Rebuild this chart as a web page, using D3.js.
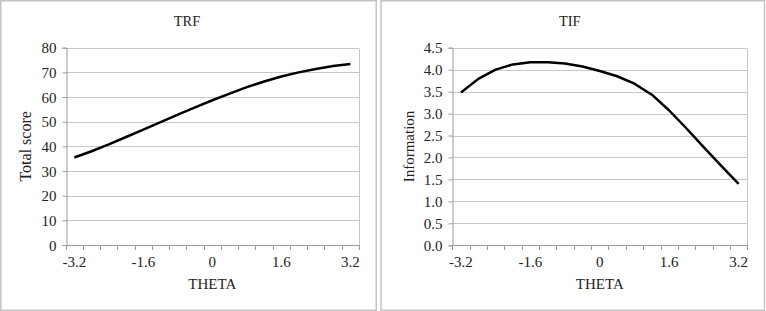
<!DOCTYPE html>
<html>
<head>
<meta charset="utf-8">
<script src="https://cdn.jsdelivr.net/npm/d3@7"></script>
<style>
  html, body { margin: 0; padding: 0; background: #fff; }
  svg { display: block; }
  text { font-family: "Liberation Serif", "Times New Roman", serif; fill: #222; }
</style>
</head>
<body>
<svg id="chart" width="766" height="311"></svg>
<script>
// ---- data ----
const theta = ["-3.2","-2.8","-2.4","-2.0","-1.6","-1.2","-0.8","-0.4","0","0.4","0.8","1.2","1.6","2.0","2.4","2.8","3.2"];
const thetaLabels = ["-3.2","-1.6","0","1.6","3.2"];
const trfValues = [35.5, 38.0, 40.8, 43.8, 46.8, 49.8, 52.9, 55.8, 58.7, 61.4, 64.0, 66.3, 68.3, 70.0, 71.4, 72.6, 73.4];
const tifValues = [3.48, 3.79, 4.00, 4.12, 4.17, 4.17, 4.14, 4.07, 3.97, 3.85, 3.68, 3.43, 3.07, 2.66, 2.23, 1.81, 1.40];
const trfTicks = [0, 10, 20, 30, 40, 50, 60, 70, 80];
const tifTicks = [0, 0.5, 1.0, 1.5, 2.0, 2.5, 3.0, 3.5, 4.0, 4.5];

const svg = d3.select("#chart");
const FONT = "'Liberation Serif', 'Times New Roman', serif";

function panel(cfg) {
  const g = svg.append("g");
  g.append("rect")
    .attr("x", cfg.frame[0]).attr("y", cfg.frame[1])
    .attr("width", cfg.frame[2]).attr("height", cfg.frame[3])
    .attr("fill", "#fff").attr("stroke", "#c4c4c4").attr("stroke-width", 1.5);

  const x = d3.scaleBand().domain(theta).range([cfg.x0, cfg.x1]).paddingInner(0).paddingOuter(0);
  const y = d3.scaleLinear().domain([0, cfg.yMax]).range([cfg.y1, cfg.y0]);

  // gridlines
  g.append("g").selectAll("line").data(cfg.yTicks).join("line")
    .attr("x1", cfg.x0).attr("x2", cfg.x1)
    .attr("y1", d => Math.round(y(d)) + 0.5).attr("y2", d => Math.round(y(d)) + 0.5)
    .attr("stroke", "#c8c8c8").attr("stroke-width", 1);

  // plot area border (right side)
  g.append("line")
    .attr("x1", Math.round(cfg.x1) + 0.5).attr("x2", Math.round(cfg.x1) + 0.5)
    .attr("y1", Math.round(y(cfg.yMax)) + 0.5).attr("y2", cfg.y1)
    .attr("stroke", "#c8c8c8");

  // y axis
  const yAxis = d3.axisLeft(y).tickValues(cfg.yTicks).tickFormat(cfg.yFmt).tickSize(4).tickPadding(6);
  const ya = g.append("g").attr("transform", `translate(${Math.round(cfg.x0) + 0.5},0)`).call(yAxis)
    .attr("font-family", FONT).attr("font-size", 15);
  ya.select(".domain").attr("stroke", "#9a9a9a");
  ya.selectAll(".tick line").attr("stroke", "#9a9a9a");
  ya.selectAll(".tick text").attr("fill", "#222").attr("dy", "0.34em");

  // x axis: tick marks at category boundaries
  const bounds = theta.map(d => x(d)).concat([cfg.x1]);
  const xa = g.append("g");
  xa.append("line").attr("x1", cfg.x0).attr("x2", cfg.x1)
    .attr("y1", Math.round(cfg.y1) + 0.5).attr("y2", Math.round(cfg.y1) + 0.5)
    .attr("stroke", "#9a9a9a");
  xa.selectAll("line.tk").data(bounds).join("line").attr("class", "tk")
    .attr("x1", d => Math.round(d) + 0.5).attr("x2", d => Math.round(d) + 0.5)
    .attr("y1", Math.round(cfg.y1)).attr("y2", Math.round(cfg.y1) + 5)
    .attr("stroke", "#9a9a9a");
  xa.selectAll("text").data(thetaLabels).join("text")
    .attr("x", d => x(d) + x.bandwidth() / 2)
    .attr("y", cfg.y1 + 22)
    .attr("text-anchor", "middle").attr("font-size", 15)
    .text(d => d);

  // line
  const line = d3.line().x((d, i) => x(theta[i]) + x.bandwidth() / 2).y(d => y(d));
  g.append("path").datum(cfg.values)
    .attr("d", line).attr("fill", "none")
    .attr("stroke", "#000").attr("stroke-width", 2.5)
    .attr("stroke-linejoin", "round").attr("stroke-linecap", "butt");

  // titles
  g.append("text").attr("x", (cfg.frame[0] + cfg.frame[0] + cfg.frame[2]) / 2 + cfg.titleDx).attr("y", 26)
    .attr("text-anchor", "middle").attr("font-size", 14.5).text(cfg.title);
  g.append("text").attr("x", (cfg.x0 + cfg.x1) / 2).attr("y", 289)
    .attr("text-anchor", "middle").attr("font-size", 15).text("THETA");
  g.append("text")
    .attr("transform", `translate(${cfg.yTitleX},${(cfg.y0 + cfg.y1) / 2}) rotate(-90)`)
    .attr("text-anchor", "middle").attr("font-size", cfg.yTitleSize).text(cfg.yTitle);
}

panel({
  frame: [0.75, 0.75, 375.5, 309.5],
  x0: 65.7, x1: 359, y0: 47.7, y1: 245,
  yMax: 80, yTicks: trfTicks, yFmt: d3.format("d"),
  values: trfValues, title: "TRF", titleDx: -1.5,
  yTitle: "Total score", yTitleX: 31, yTitleSize: 16
});
panel({
  frame: [381, 0.75, 383.5, 309.5],
  x0: 452.3, x1: 747.3, y0: 47.7, y1: 245.3,
  yMax: 4.5, yTicks: tifTicks, yFmt: d3.format(".1f"),
  values: tifValues, title: "TIF", titleDx: -3,
  yTitle: "Information", yTitleX: 414, yTitleSize: 15
});
</script>
</body>
</html>
